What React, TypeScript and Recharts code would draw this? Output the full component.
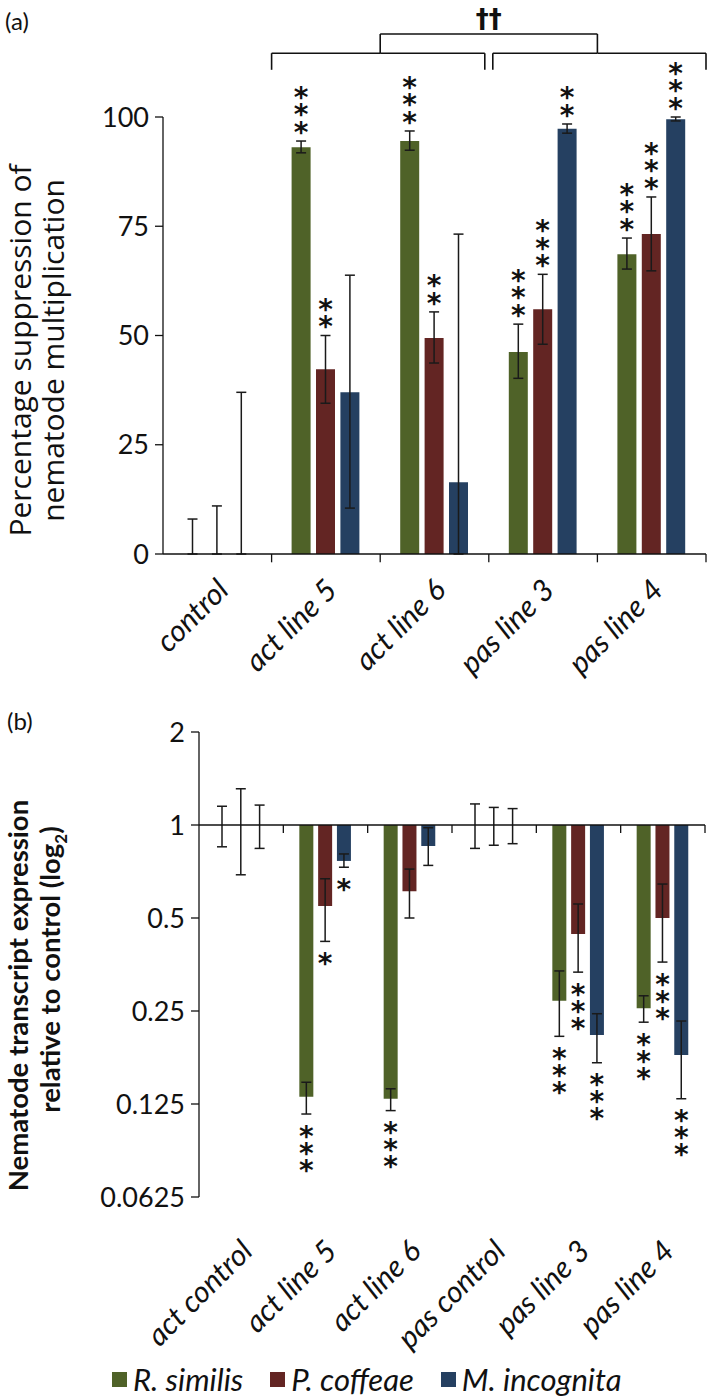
import React from 'react';
import {
  ComposedChart, Bar, XAxis, YAxis, ErrorBar, ReferenceLine, LabelList, Label,
} from 'recharts';

const FONT = 'Lato, "Open Sans", sans-serif';
const STAR_FONT = '"DejaVu Sans", sans-serif';
const GREEN = '#4f6228';
const RED = '#632523';
const BLUE = '#254061';
const INK = '#111';

// ---------- panel (a): % suppression of nematode multiplication ----------
const LINES_A = ['control', 'act line 5', 'act line 6', 'pas line 3', 'pas line 4'];
const TICKS_A = [0, 25, 50, 75, 100];

const RS_A = [0, 93.1, 94.5, 46.2, 68.6];
const RS_A_LO = [0, 91.8, 92.4, 40.2, 65.2];
const RS_A_HI = [8, 94.5, 96.8, 52.6, 72.3];
const RS_A_STARS = [0, 3, 3, 3, 3];

const PC_A = [0, 42.3, 49.4, 56, 73.2];
const PC_A_LO = [0, 34.5, 43.7, 48, 64.8];
const PC_A_HI = [11, 50, 55.4, 64, 81.7];
const PC_A_STARS = [0, 2, 2, 3, 3];

const MI_A = [0, 37, 16.4, 97.3, 99.5];
const MI_A_LO = [0, 10.5, 0, 96.3, 99.1];
const MI_A_HI = [37, 63.8, 73.2, 98.4, 100];
const MI_A_STARS = [0, 0, 0, 2, 3];

// act lines vs pas lines comparison
const GROUP_ACT = ['act line 5', 'act line 6'];
const GROUP_PAS = ['pas line 3', 'pas line 4'];
const BRACKET_TOP = 119;
const BRACKET_MID = 114.6;
const BRACKET_FOOT = 110.8;
const BRACKET_MARK = '††';

// ---------- panel (b): transcript expression relative to control ----------
const LINES_B = ['act control', 'act line 5', 'act line 6', 'pas control', 'pas line 3', 'pas line 4'];
const TICKS_B = [0.0625, 0.125, 0.25, 0.5, 1, 2];

const RS_B = [1, 0.132, 0.13, 1, 0.27, 0.255];
const RS_B_LO = [0.85, 0.116, 0.119, 0.84, 0.207, 0.23];
const RS_B_HI = [1.15, 0.147, 0.14, 1.17, 0.337, 0.28];
const RS_B_STARS = [0, 3, 3, 0, 3, 3];

const PC_B = [1, 0.547, 0.61, 1, 0.444, 0.5];
const PC_B_LO = [0.69, 0.42, 0.5, 0.86, 0.334, 0.36];
const PC_B_HI = [1.31, 0.67, 0.72, 1.14, 0.555, 0.644];
const PC_B_STARS = [0, 1, 0, 0, 3, 3];

const MI_B = [1, 0.765, 0.855, 1, 0.209, 0.18];
const MI_B_LO = [0.84, 0.73, 0.74, 0.87, 0.17, 0.13];
const MI_B_HI = [1.16, 0.806, 0.98, 1.13, 0.245, 0.232];
const MI_B_STARS = [0, 1, 0, 0, 3, 3];

const SERIES = [
  { key: 'rs', name: 'R. similis', color: GREEN },
  { key: 'pc', name: 'P. coffeae', color: RED },
  { key: 'mi', name: 'M. incognita', color: BLUE },
];

const dataA = LINES_A.map((line, i) => ({
  line,
  rs: RS_A[i], rsErr: [RS_A[i] - RS_A_LO[i], RS_A_HI[i] - RS_A[i]],
  pc: PC_A[i], pcErr: [PC_A[i] - PC_A_LO[i], PC_A_HI[i] - PC_A[i]],
  mi: MI_A[i], miErr: [MI_A[i] - MI_A_LO[i], MI_A_HI[i] - MI_A[i]],
}));

const dataB = LINES_B.map((line, i) => ({
  line,
  rs: [1, RS_B[i]], rsErr: [RS_B[i] - RS_B_LO[i], RS_B_HI[i] - RS_B[i]],
  pc: [1, PC_B[i]], pcErr: [PC_B[i] - PC_B_LO[i], PC_B_HI[i] - PC_B[i]],
  mi: [1, MI_B[i]], miErr: [MI_B[i] - MI_B_LO[i], MI_B_HI[i] - MI_B[i]],
}));

const A_SERIES = {
  rs: { vals: RS_A, hi: RS_A_HI, stars: RS_A_STARS },
  pc: { vals: PC_A, hi: PC_A_HI, stars: PC_A_STARS },
  mi: { vals: MI_A, hi: MI_A_HI, stars: MI_A_STARS },
};
const B_SERIES = {
  rs: { vals: RS_B, lo: RS_B_LO, stars: RS_B_STARS },
  pc: { vals: PC_B, lo: PC_B_LO, stars: PC_B_STARS },
  mi: { vals: MI_B, lo: MI_B_LO, stars: MI_B_STARS },
};

const STAR_SIZE = 28;

function Stars({ cx, centers }: { cx: number; centers: number[] }) {
  return (
    <text textAnchor="middle" fontFamily={STAR_FONT} fontWeight="bold" fontSize={STAR_SIZE} fill={INK}>
      {centers.map((cy, k) => (
        <tspan key={k} x={cx} y={cy + STAR_SIZE * 0.56}>*</tspan>
      ))}
    </text>
  );
}

// stars above the upper error whisker (linear axis, bars from 0)
const starsAbove = (key: keyof typeof A_SERIES) => (props: any) => {
  const s = A_SERIES[key];
  const i = LINES_A.indexOf(props.value);
  const vb = props.viewBox ?? props;
  if (i < 0 || !s.stars[i] || !s.vals[i]) return null;
  const top = Math.min(vb.y, vb.y + vb.height);
  const len = Math.abs(vb.height);
  const errTop = top - ((s.hi[i] - s.vals[i]) * len) / s.vals[i];
  const centers = Array.from({ length: s.stars[i] }, (_, k) => errTop - 15 - k * 17.5);
  return <Stars cx={vb.x + vb.width / 2} centers={centers} />;
};

// stars below the lower error whisker (log2 axis, bars hang from 1)
const starsBelow = (key: keyof typeof B_SERIES) => (props: any) => {
  const s = B_SERIES[key];
  const i = LINES_B.indexOf(props.value);
  const vb = props.viewBox ?? props;
  if (i < 0 || !s.stars[i] || s.vals[i] === 1) return null;
  const top = Math.min(vb.y, vb.y + vb.height);
  const len = Math.abs(vb.height);
  const errLow = top + (len * Math.log2(1 / s.lo[i])) / Math.log2(1 / s.vals[i]);
  const centers = Array.from({ length: s.stars[i] }, (_, k) => errLow + 16 + k * 17);
  return <Stars cx={vb.x + vb.width / 2} centers={centers} />;
};

const catTick = (dx: number, dy: number) => (props: any) => {
  const { x, y, payload } = props;
  const ax = x + dx;
  const ay = y + dy;
  return (
    <text x={ax} y={ay} transform={`rotate(-45 ${ax} ${ay})`} textAnchor="end"
      fontFamily={FONT} fontStyle="italic" fontSize={30} fill={INK}>
      {payload.value}
    </text>
  );
};

const titleA = (props: any) => {
  const vb = props.viewBox;
  const cy = vb.y + vb.height / 2 + 15;
  return (
    <g fontFamily='"Open Sans", sans-serif' fontSize={30} fill={INK}>
      <text x={31} y={cy} transform={`rotate(-90 31 ${cy})`} textAnchor="middle">Percentage suppression of</text>
      <text x={64} y={cy} transform={`rotate(-90 64 ${cy})`} textAnchor="middle">nematode multiplication</text>
    </g>
  );
};

const titleB = (props: any) => {
  const vb = props.viewBox;
  const c = vb.y + vb.height / 2;
  const c1 = c + 31;
  const c2 = c + 5;
  return (
    <g fontFamily={FONT} fontSize={27.5} fontWeight="bold" fill={INK}>
      <text x={28} y={c1} transform={`rotate(-90 28 ${c1})`} textAnchor="middle">Nematode transcript expression</text>
      <text x={60} y={c2} transform={`rotate(-90 60 ${c2})`} textAnchor="middle">
        relative to control (log<tspan fontSize={17} dy={7}>2</tspan><tspan dy={-7}>)</tspan>
      </text>
    </g>
  );
};

// line shifted sideways (keeps the two lower brackets apart)
const shifted = (d1: number, d2: number) => (props: any) => (
  <line x1={props.x1 + d1} y1={props.y1} x2={props.x2 + d2} y2={props.y2}
    stroke={INK} strokeWidth={1.6} />
);

const axisTick = { fill: INK, fontSize: 27, fontFamily: FONT };
const errStyle = { stroke: '#1a1a1a', strokeWidth: 1.5 };
const BR = { ifOverflow: 'visible' as const, stroke: INK, strokeWidth: 1.6 };

export default function App() {
  const [a5, a6] = GROUP_ACT;
  const [p3, p4] = GROUP_PAS;
  return (
    <div style={{ position: 'absolute', left: 0, top: 0, width: 709, height: 1397, background: '#fff', fontFamily: FONT }}>
      <div style={{ position: 'absolute', left: 5, top: 6, fontSize: 24, color: INK }}>(a)</div>
      <div style={{ position: 'absolute', left: 7, top: 706, fontSize: 24, color: INK }}>(b)</div>

      <div style={{ position: 'absolute', left: 0, top: 0 }}>
        <ComposedChart width={709} height={690} data={dataA} margin={{ top: 117, right: 3, left: 0, bottom: 40 }}
          barSize={19} barGap={5.4}>
          <XAxis dataKey="line" height={96} tickLine={false} tickSize={0} tickMargin={0} interval={0}
            axisLine={{ stroke: INK, strokeWidth: 1.3 }} tick={catTick(13, 38)} />
          <YAxis width={163} domain={[0, 100]} ticks={TICKS_A} allowDataOverflow tickSize={8} tickMargin={6}
            axisLine={{ stroke: INK, strokeWidth: 1.3 }} tickLine={{ stroke: INK, strokeWidth: 1.3 }} tick={axisTick}>
            <Label content={titleA} />
          </YAxis>
          {SERIES.map((s) => (
            <Bar key={s.key} dataKey={s.key} name={s.name} fill={s.color} minPointSize={0.01} isAnimationActive={false}>
              <ErrorBar dataKey={`${s.key}Err`} direction="y" width={5} {...errStyle} isAnimationActive={false} />
              <LabelList dataKey="line" content={starsAbove(s.key as keyof typeof A_SERIES)} />
            </Bar>
          ))}
          {LINES_A.map((c) => (
            <ReferenceLine key={`t-${c}`} position="end" ifOverflow="visible" stroke={INK} strokeWidth={1.3}
              segment={[{ x: c, y: 0 }, { x: c, y: -1.9 }]} />
          ))}
          {/* lower bracket over the act lines */}
          <ReferenceLine {...BR} position="start" segment={[{ x: a5, y: BRACKET_MID }, { x: a6, y: BRACKET_MID }]} />
          <ReferenceLine {...BR} position="end" segment={[{ x: a5, y: BRACKET_MID }, { x: a6, y: BRACKET_MID }]} shape={shifted(0, -4)} />
          <ReferenceLine {...BR} position="start" segment={[{ x: a5, y: BRACKET_MID }, { x: a5, y: BRACKET_FOOT }]} />
          <ReferenceLine {...BR} position="end" segment={[{ x: a6, y: BRACKET_MID }, { x: a6, y: BRACKET_FOOT }]} shape={shifted(-4, -4)} />
          {/* lower bracket over the pas lines */}
          <ReferenceLine {...BR} position="start" segment={[{ x: p3, y: BRACKET_MID }, { x: p4, y: BRACKET_MID }]} shape={shifted(4, 0)} />
          <ReferenceLine {...BR} position="end" segment={[{ x: p3, y: BRACKET_MID }, { x: p4, y: BRACKET_MID }]} />
          <ReferenceLine {...BR} position="start" segment={[{ x: p3, y: BRACKET_MID }, { x: p3, y: BRACKET_FOOT }]} shape={shifted(4, 4)} />
          <ReferenceLine {...BR} position="end" segment={[{ x: p4, y: BRACKET_MID }, { x: p4, y: BRACKET_FOOT }]} />
          {/* top bracket joining both groups */}
          <ReferenceLine {...BR} position="end" segment={[{ x: a5, y: BRACKET_TOP }, { x: a5, y: BRACKET_MID }]} />
          <ReferenceLine {...BR} position="end" segment={[{ x: p3, y: BRACKET_TOP }, { x: p3, y: BRACKET_MID }]} />
          <ReferenceLine {...BR} position="end" segment={[{ x: a5, y: BRACKET_TOP }, { x: p3, y: BRACKET_TOP }]}
            label={{ value: BRACKET_MARK, position: 'top', offset: 6, fill: INK, fontSize: 26, fontWeight: 'bold', fontFamily: STAR_FONT }} />
        </ComposedChart>
      </div>

      <div style={{ position: 'absolute', left: 0, top: 690 }}>
        <ComposedChart width={709} height={707} data={dataB} margin={{ top: 42, right: 4, left: 0, bottom: 50 }}
          barSize={14} barGap={4.8}>
          <XAxis dataKey="line" height={150} tickLine={false} tickSize={0} tickMargin={0} interval={0}
            axisLine={false} tick={catTick(13, 56)} />
          <YAxis width={199} type="number" scale="log" domain={[0.0625, 2]} ticks={TICKS_B} allowDataOverflow
            tickSize={8} tickMargin={6} tickFormatter={(v: number) => String(v)}
            axisLine={{ stroke: INK, strokeWidth: 1.3 }} tickLine={{ stroke: INK, strokeWidth: 1.3 }} tick={axisTick}>
            <Label content={titleB} />
          </YAxis>
          {SERIES.map((s) => (
            <Bar key={s.key} dataKey={s.key} name={s.name} fill={s.color} minPointSize={0.01} isAnimationActive={false}>
              <ErrorBar dataKey={`${s.key}Err`} direction="y" width={5} {...errStyle} isAnimationActive={false} />
              <LabelList dataKey="line" content={starsBelow(s.key as keyof typeof B_SERIES)} />
            </Bar>
          ))}
          <ReferenceLine y={1} stroke={INK} strokeWidth={1.3} />
          {LINES_B.map((c) => (
            <ReferenceLine key={`t-${c}`} position="end" ifOverflow="visible" stroke={INK} strokeWidth={1.3}
              segment={[{ x: c, y: 1 }, { x: c, y: 0.942 }]} />
          ))}
        </ComposedChart>
      </div>

      <div style={{ position: 'absolute', left: 112, top: 1361, display: 'flex', alignItems: 'center', height: 36 }}>
        {SERIES.map((s) => (
          <div key={s.key} style={{ display: 'flex', alignItems: 'center', marginRight: 27 }}>
            <span style={{ width: 15, height: 15, background: s.color, display: 'inline-block', marginRight: 6 }} />
            <span style={{ fontStyle: 'italic', fontSize: 31, color: INK }}>{s.name}</span>
          </div>
        ))}
      </div>
    </div>
  );
}
